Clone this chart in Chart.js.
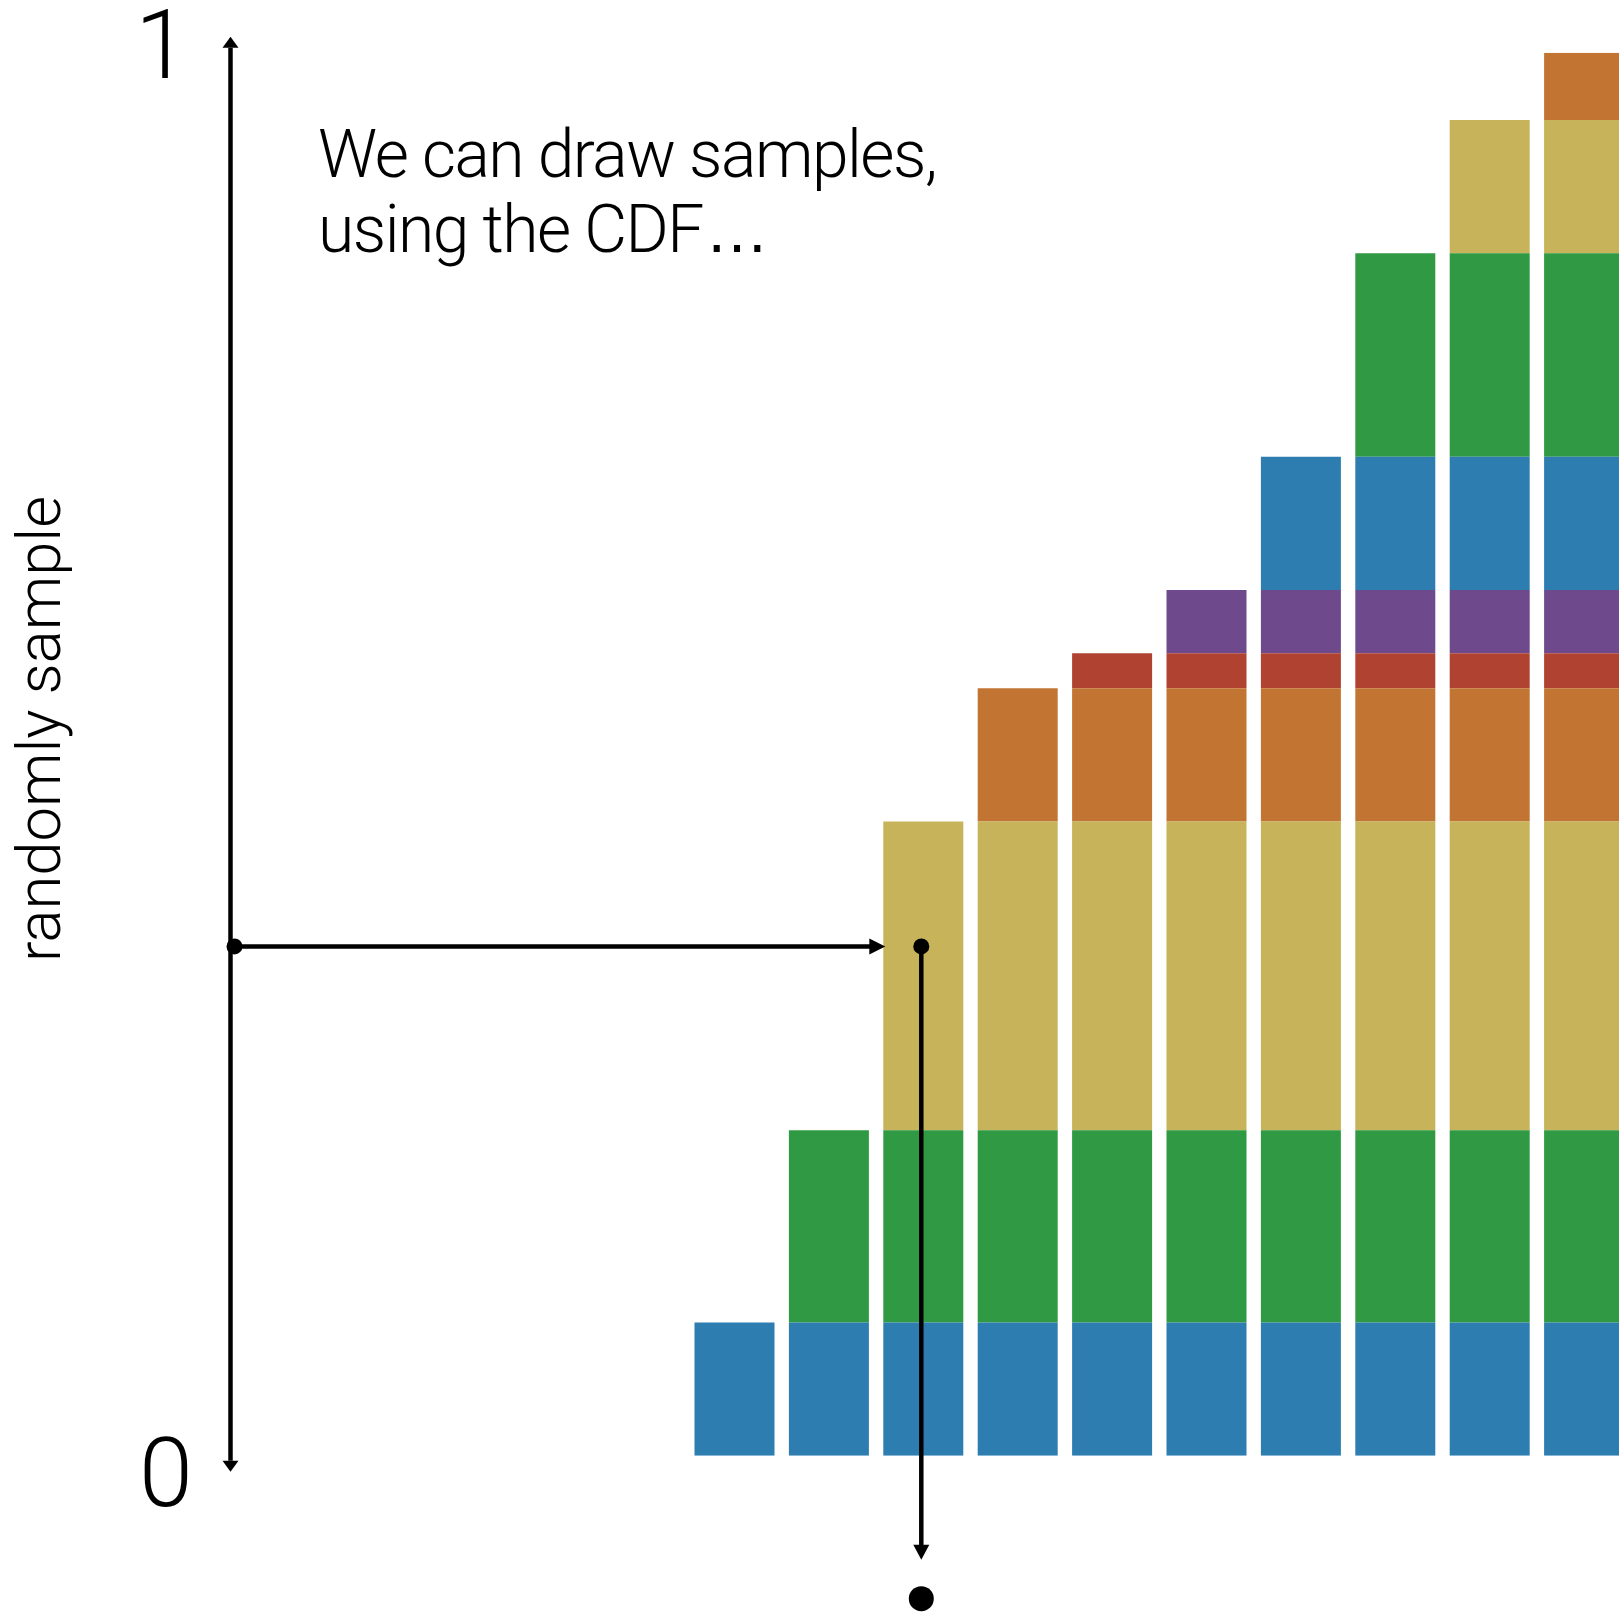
<!DOCTYPE html>
<html>
<head>
<meta charset="utf-8">
<script src="https://cdn.jsdelivr.net/npm/chart.js@4.4.1/dist/chart.umd.min.js"></script>
<style>
  html, body { margin: 0; padding: 0; background: #ffffff; overflow: hidden; }
  #wrap { width: 1640px; height: 1616px; }
</style>
</head>
<body>
<div id="wrap"><canvas id="cdf" width="1640" height="1616"></canvas></div>
<script>
// Outcomes of the discrete distribution, in order along the x axis
const outcomes = ['1', '2', '3', '4', '5', '6', '7', '8', '9', '10'];
// Probability of each outcome (each one becomes a new slab on the CDF staircase)
const probabilities = [0.095, 0.137, 0.22, 0.095, 0.025, 0.045, 0.095, 0.145, 0.095, 0.048];
// Fill colour of each outcome's slab
const slabColors = ['#2e7db0', '#2f9a43', '#c6b35a', '#c27533', '#b04232', '#6e4a8c',
                    '#2e7db0', '#2f9a43', '#c6b35a', '#c27533'];
// Uniform random number drawn on the vertical axis, and the outcome it lands on
const uniformDraw = 0.363;
const sampledOutcome = '3';
// Labels at the two ends of the vertical axis
const axisTickLabels = ['0', '1'];
const axisTitle = 'randomly sample';
const captionLines = ['We can draw samples,', 'using the CDF'];
const captionEllipsis = '\u2026';

// Slab j sits in every cumulative bar from outcome j onward
const datasets = probabilities.map((p, j) => ({
  label: outcomes[j],
  data: outcomes.map((_, i) => (i >= j ? p : null)),
  backgroundColor: slabColors[j],
  borderWidth: 0,
  barPercentage: 0.8475,
  categoryPercentage: 1.0
}));

const FONT = '"Roboto", "Liberation Sans", sans-serif';

function arrowHead(ctx, x, y, dir, len, half) {
  ctx.beginPath();
  if (dir === 'up') { ctx.moveTo(x, y); ctx.lineTo(x - half, y + len); ctx.lineTo(x + half, y + len); }
  if (dir === 'down') { ctx.moveTo(x, y); ctx.lineTo(x - half, y - len); ctx.lineTo(x + half, y - len); }
  if (dir === 'right') { ctx.moveTo(x, y); ctx.lineTo(x - len, y - half); ctx.lineTo(x - len, y + half); }
  ctx.closePath();
  ctx.fill();
}
function dot(ctx, x, y, r) {
  ctx.beginPath();
  ctx.arc(x, y, r, 0, Math.PI * 2);
  ctx.fill();
}

const samplingOverlay = {
  id: 'samplingOverlay',
  afterDraw(chart) {
    const ctx = chart.ctx;
    const ys = chart.scales.y;
    const y0 = ys.getPixelForValue(0);
    const y1 = ys.getPixelForValue(1);
    const yu = ys.getPixelForValue(uniformDraw);
    const axisX = 230.5;

    ctx.save();
    ctx.fillStyle = '#000';
    ctx.strokeStyle = '#000';
    ctx.lineWidth = 4.5;

    // vertical "random sample" axis with arrows at both ends
    ctx.beginPath();
    ctx.moveTo(axisX, y1 - 5);
    ctx.lineTo(axisX, y0 + 5);
    ctx.stroke();
    arrowHead(ctx, axisX, y1 - 16, 'up', 11, 8);
    arrowHead(ctx, axisX, y0 + 16, 'down', 11, 8);

    // end labels
    ctx.font = '300 97px ' + FONT;
    ctx.textAlign = 'center';
    ctx.textBaseline = 'middle';
    ctx.fillText(axisTickLabels[1], 162, y1 + 1);
    ctx.fillText(axisTickLabels[0], 166, y0 + 26);

    // axis title, rotated
    ctx.save();
    ctx.translate(60, 729);
    ctx.rotate(-Math.PI / 2);
    ctx.font = '300 61.5px ' + FONT;
    ctx.textAlign = 'center';
    ctx.textBaseline = 'alphabetic';
    ctx.fillText(axisTitle, 0, 0);
    ctx.restore();

    // caption
    ctx.save();
    ctx.font = '300 66px ' + FONT;
    ctx.letterSpacing = '-1.5px';
    ctx.textAlign = 'left';
    ctx.textBaseline = 'alphabetic';
    ctx.fillText(captionLines[0], 318, 177);
    ctx.fillText(captionLines[1], 318, 252);
    const w2 = ctx.measureText(captionLines[1]).width;
    ctx.letterSpacing = '0px';
    ctx.font = '64px "Liberation Sans", sans-serif';
    ctx.fillText(captionEllipsis, 318 + w2 + 2, 252);
    ctx.restore();

    // horizontal arrow from the drawn number to the CDF bar it hits
    const idx = outcomes.indexOf(sampledOutcome);
    const bar = chart.getDatasetMeta(idx).data[idx];
    const barLeft = bar.x - bar.width / 2;
    dot(ctx, axisX + 4, yu, 8);
    ctx.beginPath();
    ctx.moveTo(axisX, yu);
    ctx.lineTo(barLeft - 10, yu);
    ctx.stroke();
    arrowHead(ctx, barLeft + 2, yu, 'right', 16, 8);

    // drop down from the bar to the sampled outcome
    const cx = bar.x - 2;
    dot(ctx, cx, yu, 8);
    const tipY = y0 + 104;
    ctx.beginPath();
    ctx.moveTo(cx, yu);
    ctx.lineTo(cx, tipY - 10);
    ctx.stroke();
    arrowHead(ctx, cx, tipY, 'down', 15, 8);
    dot(ctx, cx, y0 + 143, 12.5);
    ctx.restore();
  }
};

new Chart(document.getElementById('cdf'), {
  type: 'bar',
  data: { labels: outcomes, datasets },
  options: {
    responsive: false,
    animation: false,
    devicePixelRatio: 1,
    layout: { padding: { left: 687.3, right: 8.7, top: 52.7, bottom: 160.3 } },
    plugins: { legend: { display: false }, tooltip: { enabled: false } },
    scales: {
      x: { stacked: true, display: false, offset: true },
      y: { stacked: true, display: false, min: 0, max: 1 }
    }
  },
  plugins: [samplingOverlay]
});
</script>
</body>
</html>
